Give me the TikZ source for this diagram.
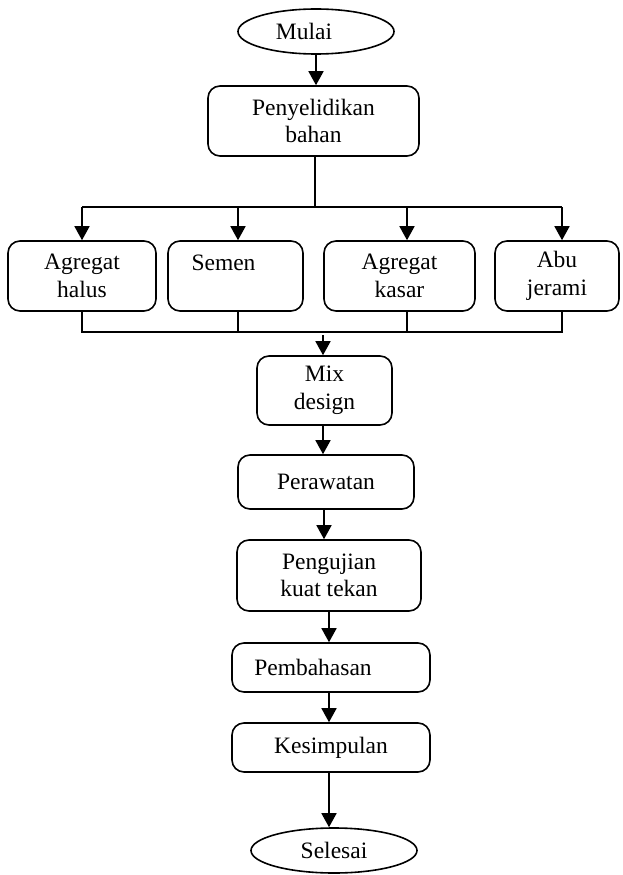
\documentclass[tikz,border=0pt]{standalone}
\usepackage{fontspec}
\setmainfont{Liberation Serif}
\usetikzlibrary{arrows.meta, positioning, calc, shapes.geometric}
\tikzset{
    stepbox/.style={draw, line width=1.6pt, rectangle, rounded corners=12pt,
                    inner sep=0pt, align=center,
                    font=\fontsize{23.5}{27.5}\selectfont},
    terminal/.style={draw, line width=1.6pt, ellipse, inner sep=0pt,
                     font=\fontsize{23.5}{27.5}\selectfont},
    flow/.style={-{Triangle[length=14pt, width=15pt]}, line width=1.6pt},
    link/.style={-, line width=1.6pt},
}

\begin{document}
\begin{tikzpicture}[x=1pt, y=-1pt]
\useasboundingbox (0,0) rectangle (622,875);

% --- start and survey ---
\node[terminal, minimum width=156pt, minimum height=45pt] (mulai) at (316,31.5)
    {\hspace*{-24pt}Mulai};
\node[stepbox, minimum width=211pt, minimum height=70pt] (selidik) at (313.5,121)
    {Penyelidikan\\bahan};

% --- materials ---
\node[stepbox, minimum width=148pt, minimum height=70pt] (halus) at (82,276)
    {Agregat\\halus};
\node[stepbox, minimum width=135pt, minimum height=70pt] (semen) at (235.5,276)
    {\hspace*{-24pt}Semen\\\mbox{}};
\node[stepbox, minimum width=151pt, minimum height=70pt] (kasar) at (399.5,276)
    {Agregat\\kasar};
\node[stepbox, minimum width=124pt, minimum height=70pt] (jerami) at (557,276)
    {Abu\\jerami};

% --- process ---
\node[stepbox, minimum width=135pt, minimum height=69pt] (mix) at (324.5,390.5)
    {Mix\\design};
\node[stepbox, minimum width=176pt, minimum height=54pt] (rawat) at (326,482)
    {Perawatan};
\node[stepbox, minimum width=184pt, minimum height=71pt] (uji) at (329,575.5)
    {Pengujian\\kuat tekan};
\node[stepbox, minimum width=198pt, minimum height=49pt] (bahas) at (331,667.5)
    {\hspace*{-36pt}Pembahasan};
\node[stepbox, minimum width=198pt, minimum height=49pt] (simpul) at (331,747.5)
    {Kesimpulan};
\node[terminal, minimum width=166pt, minimum height=45pt] (selesai) at (334,850.5)
    {Selesai};

\coordinate (split) at (315,207);
\coordinate (join) at (323,332);

% --- connectors ---
\draw[flow] (mulai) -- (mulai |- selidik.north);
\draw[link] (selidik.south -| split) -- (split);
\draw[link] (split -| halus.north) -- ([xshift=5pt]split -| jerami.north);
\draw[flow] (split -| halus.north) -- (halus.north);
\draw[flow] ([xshift=2.5pt]split -| semen.north) -- ([xshift=2.5pt]semen.north);
\draw[flow] ([xshift=7.5pt]split -| kasar.north) -- ([xshift=7.5pt]kasar.north);
\draw[flow] ([xshift=5pt]split -| jerami.north) -- ([xshift=5pt]jerami.north);

\draw[link] (halus.south) -- (halus.south |- join) -- ([xshift=5pt]jerami.south |- join)
    -- ([xshift=5pt]jerami.south);
\draw[link] ([xshift=2.5pt]semen.south) -- ([xshift=2.5pt]semen.south |- join);
\draw[link] ([xshift=7.5pt]kasar.south) -- ([xshift=7.5pt]kasar.south |- join);
\draw[flow] ([yshift=-3pt]join) -- (join |- mix.north);

\draw[flow] (join |- mix.south) -- (join |- rawat.north);
\draw[flow] ([xshift=1pt]join |- rawat.south) -- ([xshift=1pt]join |- uji.north);
\draw[flow] (uji.south) -- (uji.south |- bahas.north);
\draw[flow] (uji.south |- bahas.south) -- (uji.south |- simpul.north);
\draw[flow] (uji.south |- simpul.south) -- (uji.south |- selesai.north);
\end{tikzpicture}
\end{document}
